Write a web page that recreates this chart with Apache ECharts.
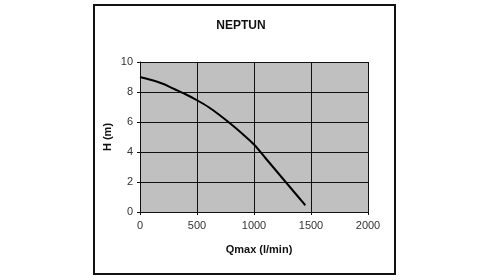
<!DOCTYPE html>
<html>
<head>
<meta charset="utf-8">
<script src="https://cdn.jsdelivr.net/npm/echarts@6/dist/echarts.min.js"></script>
<style>
  html, body { margin: 0; padding: 0; background: #fff; }
  #chart { width: 490px; height: 280px; }
</style>
</head>
<body>
<div id="chart"></div>
<script>
// расход, л/мин
const flow = [0, 100, 200, 300, 400, 500, 600, 700, 800, 900, 1000, 1100, 1200, 1300, 1400, 1450];
// напор, м
const head = [9.0, 8.8, 8.55, 8.2, 7.85, 7.45, 7.0, 6.45, 5.85, 5.2, 4.5, 3.6, 2.7, 1.8, 0.9, 0.45];
const xTicks = [0, 500, 1000, 1500, 2000];
const yTicks = [0, 2, 4, 6, 8, 10];

let chart = echarts.init(document.getElementById("chart"));
let font = "Liberation Sans, Arial, sans-serif";

let option = {
  animation: false,
  title: {
    text: "NEPTUN",
    left: 236,
    top: 15,
    textAlign: "center",
    textStyle: { fontFamily: font, fontSize: 12, fontWeight: "bold", color: "#111" },
  },
  graphic: [
    {
      type: "rect",
      shape: { x: 94, y: 5, width: 301, height: 269 },
      style: { fill: "none", stroke: "#111", lineWidth: 2 },
      silent: true,
    },
  ],
  grid: {
    left: 140,
    top: 62,
    width: 228,
    height: 150,
    show: true,
    backgroundColor: "#c0c0c0",
    borderWidth: 0,
  },
  xAxis: {
    type: "value",
    min: xTicks[0],
    max: xTicks[xTicks.length - 1],
    interval: 500,
    name: "Qmax (l/min)",
    nameLocation: "middle",
    nameGap: 32,
    nameTextStyle: { fontFamily: font, fontSize: 11, fontWeight: "bold", color: "#111", padding: [0, 0, 0, 10] },
    axisLine: { lineStyle: { color: "#111", width: 1 } },
    axisTick: { show: true, length: 3, lineStyle: { color: "#111" } },
    axisLabel: { fontFamily: font, fontSize: 11, color: "#333", margin: 8, formatter: (v) => String(v) },
    splitLine: { show: true, lineStyle: { color: "#111", width: 1 } },
  },
  yAxis: {
    type: "value",
    min: yTicks[0],
    max: yTicks[yTicks.length - 1],
    interval: 2,
    name: "H (m)",
    nameLocation: "middle",
    nameGap: 27,
    nameRotate: 90,
    nameTextStyle: { fontFamily: font, fontSize: 11, fontWeight: "bold", color: "#111" },
    axisLine: { show: true, lineStyle: { color: "#111", width: 1 } },
    axisTick: { show: true, length: 3, lineStyle: { color: "#111" } },
    axisLabel: { fontFamily: font, fontSize: 11, color: "#333", margin: 7 },
    splitLine: { show: true, lineStyle: { color: "#111", width: 1 } },
  },
  series: [
    {
      type: "line",
      data: flow.map((q, i) => [q, head[i]]),
      smooth: 0.3,
      showSymbol: false,
      lineStyle: { color: "#000", width: 2 },
    },
  ],
};

chart.setOption(option);
</script>
</body>
</html>
